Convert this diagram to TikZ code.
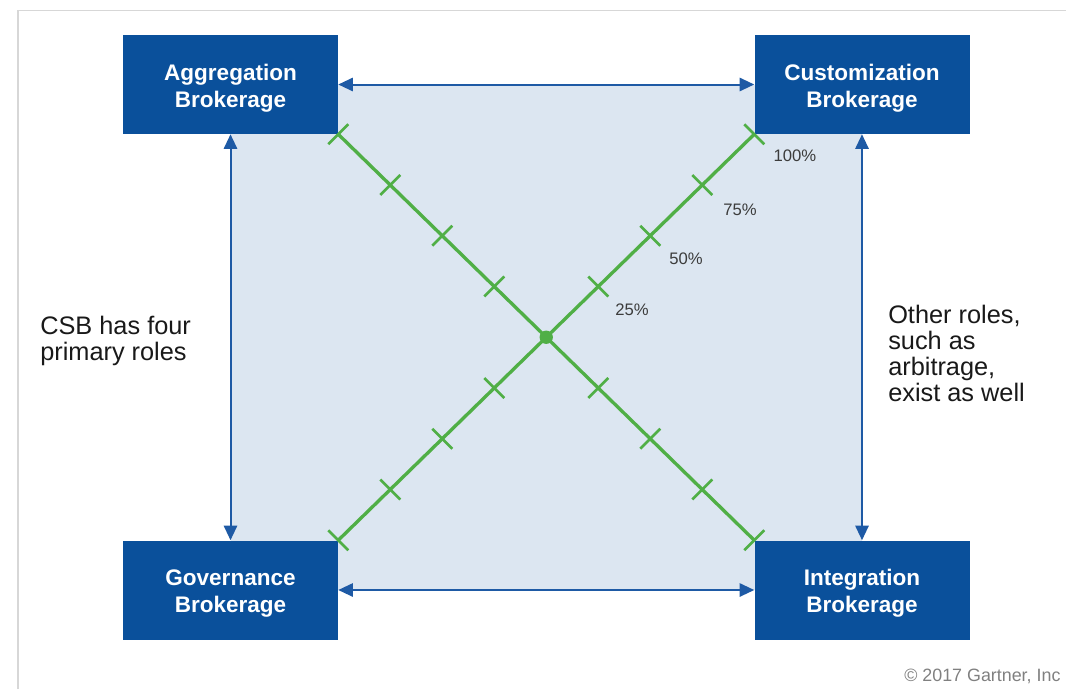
\documentclass[tikz,border=0pt]{standalone}
\usepackage{fontspec}
\setmainfont{Liberation Sans}
\usetikzlibrary{arrows.meta,calc}
\definecolor{boxblue}{RGB}{10,80,155}
\definecolor{lightfill}{RGB}{220,230,241}
\definecolor{arrblue}{RGB}{30,90,165}
\definecolor{grn}{RGB}{80,175,70}
\definecolor{framegray}{RGB}{215,215,215}
\definecolor{pctgray}{RGB}{60,60,60}
\definecolor{copygray}{RGB}{128,128,128}
\tikzset{
  rolebox/.style={fill=boxblue, draw=none,
    minimum width=161.25pt, minimum height=74.25pt, inner sep=0pt},
  roletext/.style={text=white, align=center, inner sep=0pt,
    font=\fontsize{16.9}{20.2}\selectfont\bfseries},
  biarrow/.style={draw=arrblue, line width=1.5pt,
    {Triangle[length=11pt,width=10pt]}-{Triangle[length=11pt,width=10pt]}},
  diag/.style={draw=grn, line width=2.5pt},
  tickmark/.style={draw=grn, line width=2pt},
  pct/.style={text=pctgray, font=\fontsize{12.5}{14}\selectfont, inner sep=0pt},
  sidetext/.style={align=left, anchor=west, inner sep=0pt, text=black!90,
    font=\fontsize{19}{19.5}\selectfont},
  framel/.style={draw=framegray, line width=0.9pt}
}
\begin{document}
\begin{tikzpicture}[x=0.75pt, y=-0.75pt]
\useasboundingbox (0,0) rectangle (1066,689);
% frame
\draw[framel] (18,689) -- (18,10.5) -- (1066,10.5);
% light square
\fill[lightfill] (230.5,84.5) rectangle (862,590);
% boxes
\node[rolebox] (agg) at (230.5,84.5) {};
\node[rolebox] (cust) at (862,84.5) {};
\node[rolebox] (gov) at (230.5,590) {};
\node[rolebox] (integ) at (862,590) {};
\node[roletext] (aggt) at ($(agg.center)+(0,3.5)$) {Aggregation\\Brokerage};
\node[roletext] (custt) at ($(cust.center)+(0,3.5)$) {Customization\\Brokerage};
\node[roletext] (govt) at ($(gov.center)+(0,3.5)$) {Governance\\Brokerage};
\node[roletext] (integt) at ($(integ.center)+(0,3.5)$) {Integration\\Brokerage};
% arrows
\draw[biarrow] (agg.east) -- (cust.west);
\draw[biarrow] (gov.east) -- (integ.west);
\draw[biarrow] (agg.south) -- (gov.north);
\draw[biarrow] (cust.south) -- (integ.north);
% diagonals
\draw[diag] (agg.south east) -- (integ.north west);
\draw[diag] (gov.north east) -- (cust.south west);
\foreach \t in {0,0.125,0.25,0.375,0.625,0.75,0.875,1}{
  \coordinate (pa) at ($(agg.south east)!\t!(integ.north west)$);
  \draw[tickmark] ($(pa)+(-10,10)$) -- ($(pa)+(10,-10)$);
  \coordinate (pb) at ($(gov.north east)!\t!(cust.south west)$);
  \draw[tickmark] ($(pb)+(-10,-10)$) -- ($(pb)+(10,10)$);
}
\node[circle, fill=grn, minimum size=10pt, inner sep=0pt] (ctr) at ($(agg.south east)!0.5!(integ.north west)$) {};
% percentages
\node[pct] (p100) at (795,156) {100\%};
\node[pct] (p75) at (740,210) {75\%};
\node[pct] (p50) at (686,259) {50\%};
\node[pct] (p25) at (632,310) {25\%};
% side texts
\node[sidetext] (left) at (40,341) {CSB has four\\primary roles};
\node[sidetext] (right) at (888,353) {Other roles,\\such as\\arbitrage,\\exist as well};
% copyright
\node[anchor=west, inner sep=0pt, text=copygray, font=\fontsize{13.4}{15}\selectfont] (copy) at (904,676) {© 2017 Gartner, Inc};
\end{tikzpicture}
\end{document}
